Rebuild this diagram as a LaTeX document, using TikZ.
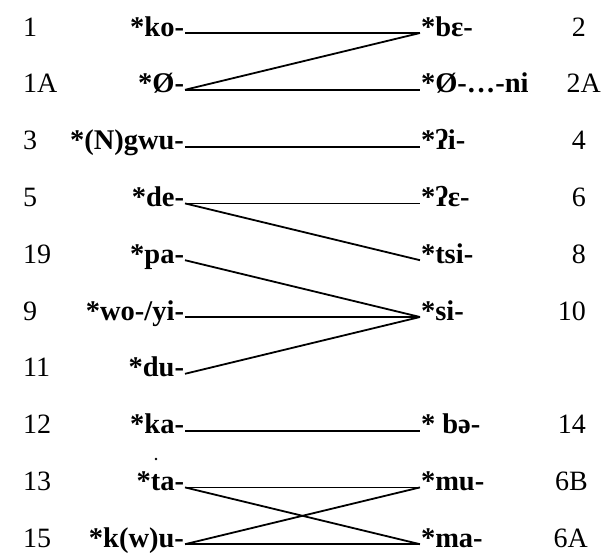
\documentclass[tikz,border=0pt]{standalone}
\usepackage{fontspec}
\setmainfont{Liberation Serif}
\begin{document}
\begin{tikzpicture}[x=1pt,y=-1pt,
  num/.style={font=\fontsize{28}{30}\selectfont, inner sep=0pt},
  lab/.style={font=\fontsize{28.5}{30}\selectfont\bfseries, inner sep=0pt, outer sep=1pt, text height=0.6em, text depth=0pt},
  link/.style={line width=1.8pt}]
\useasboundingbox (0,0) rectangle (608,552);
% row 1
\node[num, anchor=base west] (n1) at (23,36) {1};
\node[lab, anchor=base east] (ko) at (185,36) {*ko-};
\node[lab, anchor=base west] (be) at (420,36) {*bɛ-};
\node[num, anchor=base east] (n2) at (586,36) {2};
% row 1A
\node[num, anchor=base west] (n1A) at (23,92.8) {1A};
\node[lab, anchor=base east] (zero) at (185,92.8) {*Ø-};
\node[lab, anchor=base west] (zeroni) at (420,92.8) {*Ø-\hspace{1pt}.\hspace{2.5pt}.\hspace{2.5pt}.\hspace{1pt}-ni};
\node[num, anchor=base east] (n2A) at (601,92.8) {2A};
% row 3
\node[num, anchor=base west] (n3) at (23,149.6) {3};
\node[lab, anchor=base east] (gwu) at (185,149.6) {*(N)gwu-};
\node[lab, anchor=base west] (qi) at (420,149.6) {*ʔi-};
\node[num, anchor=base east] (n4) at (586,149.6) {4};
% row 5
\node[num, anchor=base west] (n5) at (23,206.4) {5};
\node[lab, anchor=base east] (de) at (185,206.4) {*de-};
\node[lab, anchor=base west] (qe) at (420,206.4) {*ʔɛ-};
\node[num, anchor=base east] (n6) at (586,206.4) {6};
% row 19
\node[num, anchor=base west] (n19) at (23,263.2) {19};
\node[lab, anchor=base east] (pa) at (185,263.2) {*pa-};
\node[lab, anchor=base west] (tsi) at (420,263.2) {*tsi-};
\node[num, anchor=base east] (n8) at (586,263.2) {8};
% row 9
\node[num, anchor=base west] (n9) at (23,320) {9};
\node[lab, anchor=base east] (wo) at (185,320) {*wo-/yi-};
\node[lab, anchor=base west] (si) at (420,320) {*si-};
\node[num, anchor=base east] (n10) at (586,320) {10};
% row 11
\node[num, anchor=base west] (n11) at (23,376.8) {11};
\node[lab, anchor=base east] (du) at (185,376.8) {*du-};
% row 12
\node[num, anchor=base west] (n12) at (23,433.6) {12};
\node[lab, anchor=base east] (ka) at (185,433.6) {*ka-};
\node[lab, anchor=base west] (bo) at (420,433.6) {* bə-};
\node[num, anchor=base east] (n14) at (586,433.6) {14};
% row 13
\node[num, anchor=base west] (n13) at (23,490.4) {13};
\node[lab, anchor=base east] (ta) at (185,490.4) {*ta-};
\node[circle, fill, inner sep=0pt, minimum size=2.6pt] (tdot) at (156,459) {};
\node[lab, anchor=base west] (mu) at (420,490.4) {*mu-};
\node[num, anchor=base east] (n6B) at (588,490.4) {6B};
% row 15
\node[num, anchor=base west] (n15) at (23,547.2) {15};
\node[lab, anchor=base east] (kwu) at (185,547.2) {*k(w)u-};
\node[lab, anchor=base west] (ma) at (420,547.2) {*ma-};
\node[num, anchor=base east] (n6A) at (588,547.2) {6A};
% connectors
\draw[link] (ko.east) -- (be.west);
\draw[link] (zero.east) -- (be.west);
\draw[link] (zero.east) -- (zeroni.west);
\draw[link] (gwu.east) -- (qi.west);
\draw[link] (de.east) -- (qe.west);
\draw[link] (de.east) -- (tsi.west);
\draw[link] (pa.east) -- (si.west);
\draw[link] (wo.east) -- (si.west);
\draw[link] (du.east) -- (si.west);
\draw[link] (ka.east) -- (bo.west);
\draw[link] (ta.east) -- (mu.west);
\draw[link] (ta.east) -- (ma.west);
\draw[link] (kwu.east) -- (mu.west);
\draw[link] (kwu.east) -- (ma.west);
\end{tikzpicture}
\end{document}
